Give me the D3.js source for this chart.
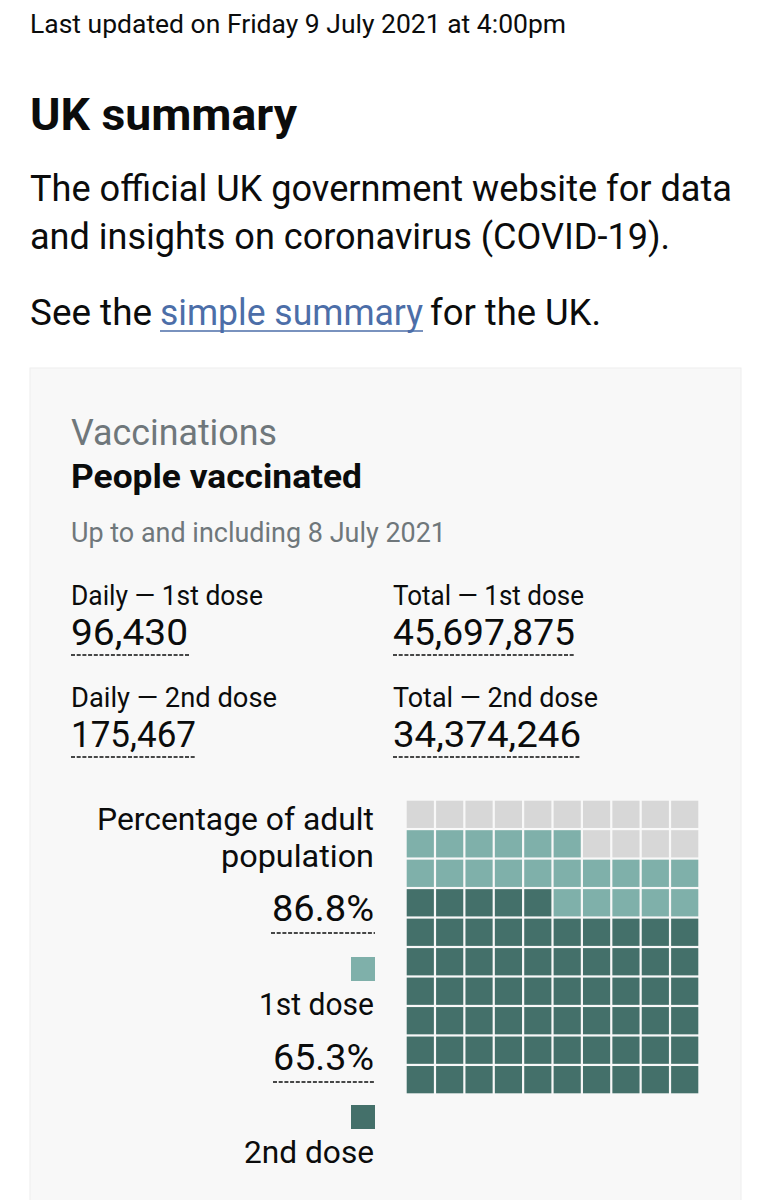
<!DOCTYPE html>
<html><head><meta charset="utf-8">
<script src="https://cdn.jsdelivr.net/npm/d3@7/dist/d3.min.js"></script>
<style>html,body{margin:0;padding:0;background:#fff}svg{display:block}text{font-family:Roboto,sans-serif}</style>
</head><body><svg id="c" width="769" height="1200"></svg>
<script>
const firstDosePct = 86.8;
const secondDosePct = 65.3;
const gridRows = d3.range(10);
const gridCols = d3.range(10);
const doseLabels = ["Daily — 1st dose","Total — 1st dose","Daily — 2nd dose","Total — 2nd dose"];
const doseValues = ["96,430","45,697,875","175,467","34,374,246"];
const colours = {second:"#44706a", first:"#7fb0aa", none:"#d7d7d7"};

const svg = d3.select("#c");
function T(s,x,y,size,opts={}){
  const t = svg.append("text").attr("x",x).attr("y",y).attr("font-size",size)
    .attr("fill",opts.fill||"#0b0c0c").attr("font-weight",opts.weight||400)
    .attr("text-anchor",opts.anchor||"start").text(s);
  if(opts.width){t.attr("textLength",opts.width).attr("lengthAdjust","spacingAndGlyphs");}
  return t;
}
function dash(x1,x2,y){
  svg.append("line").attr("x1",x1).attr("x2",x2).attr("y1",y).attr("y2",y)
    .attr("stroke","#0b0c0c").attr("stroke-width",1.4).attr("stroke-dasharray","4 1.7");
}
const grey="#6f777b";
T("Last updated on Friday 9 July 2021 at 4:00pm",30,33,26,{width:536});
T("UK summary",30,130,44,{weight:700,width:267});
T("The official UK government website for data",30,201,36,{width:702});
T("and insights on coronavirus (COVID-19).",30,249,36,{width:640});
T("See the ",30,325,36,{width:122});
T("simple summary",160,325,36,{fill:"#4c6ea8",width:263});
svg.append("line").attr("x1",160).attr("x2",423).attr("y1",331).attr("y2",331).attr("stroke","#4c6ea8").attr("stroke-width",1.6);
T("for the UK.",430,325,36,{width:171});

svg.append("rect").attr("x",30).attr("y",368).attr("width",711).attr("height",840)
  .attr("fill","#f8f8f8").attr("stroke","#eeeeee");
T("Vaccinations",71,445,36,{fill:grey,width:206});
T("People vaccinated",71,488,34,{weight:700,width:291});
T("Up to and including 8 July 2021",71,542,27,{fill:grey,width:375});

const colX=[71,393], labelY=[605,707], valueY=[645,747], dashY=[655,757];
const labelW=[192,191,206,205], valueW=[117,182,125,188], dashW=[119,182,125,188];
doseLabels.forEach((l,i)=>{
  const c=i%2, r=Math.floor(i/2);
  T(l,colX[c],labelY[r],27,{width:labelW[i]});
  T(doseValues[i],colX[c],valueY[r],36,{width:valueW[i]});
  dash(colX[c],colX[c]+dashW[i],dashY[r]);
});

// legend
const R=374;
T("Percentage of adult",R,830,32,{anchor:"end",width:277});
T("population",R,867,32,{anchor:"end",width:153});
T(firstDosePct.toFixed(1)+"%",R,921,36,{anchor:"end",width:102});
dash(271,375,933);
svg.append("rect").attr("x",351).attr("y",957).attr("width",24).attr("height",24).attr("fill",colours.first);
T("1st dose",R,1015,32,{anchor:"end",width:115});
T(secondDosePct.toFixed(1)+"%",R,1070,36,{anchor:"end",width:101});
dash(273,375,1082);
svg.append("rect").attr("x",351).attr("y",1105).attr("width",24).attr("height",24).attr("fill",colours.second);
T("2nd dose",R,1163,32,{anchor:"end",width:130});

// waffle
const x=d3.scaleBand().domain(gridCols).range([406.7,698.3]).paddingInner(0.075).paddingOuter(0);
const y=d3.scaleBand().domain(gridRows).range([1093.3,800.7]).paddingInner(0.075).paddingOuter(0);
const cells=d3.cross(gridRows,gridCols).map(([r,c])=>({r,c,i:r*10+c+1}));
svg.append("g").selectAll("rect").data(cells).join("rect")
  .attr("x",d=>x(d.c)).attr("y",d=>y(d.r)).attr("width",x.bandwidth()).attr("height",y.bandwidth())
  .attr("fill",d=>d.i<=Math.floor(secondDosePct)?colours.second:d.i<=Math.floor(firstDosePct)?colours.first:colours.none);
</script></body></html>
